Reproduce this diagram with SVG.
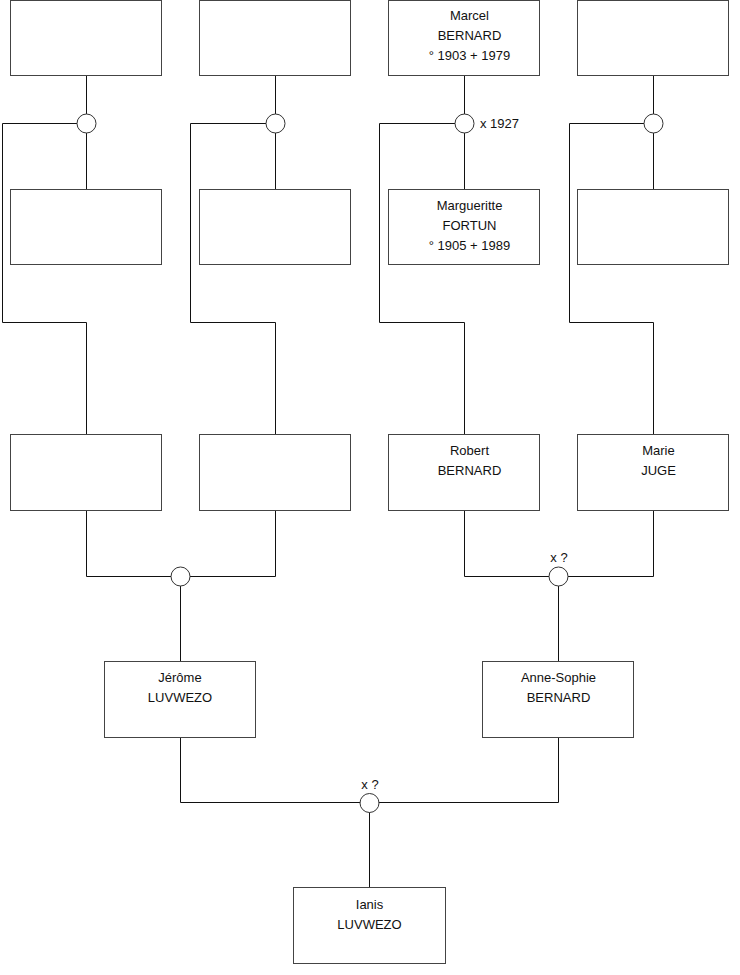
<svg xmlns="http://www.w3.org/2000/svg" width="740" height="975" viewBox="0 0 740 975">
<style>
.box{fill:#fff;stroke:#444;stroke-width:1}
.ln{fill:none;stroke:#111;stroke-width:1}
.ring{fill:#fff;stroke:#333;stroke-width:1}
text{font-family:"Liberation Sans",Arial,sans-serif;font-size:13px;fill:#111;text-anchor:middle}
.lab{text-anchor:start}
</style>
<rect width="740" height="975" fill="#fff"/>
<g id="connectors">
<path class="ln" d="M86.5,75.5V189.5 M86.5,123.5H2.5V322.5H86.5V434.5"/>
<path class="ln" d="M275.5,75.5V189.5 M275.5,123.5H190.5V322.5H275.5V434.5"/>
<path class="ln" d="M464.5,75.5V189.5 M464.5,123.5H379.5V322.5H464.5V434.5"/>
<path class="ln" d="M653.5,75.5V189.5 M653.5,123.5H569.5V322.5H653.5V434.5"/>
<path class="ln" d="M86.5,510.5V576.5H275.5V510.5 M180.5,576.5V661.5"/>
<path class="ln" d="M464.5,510.5V576.5H653.5V510.5 M558.5,576.5V661.5"/>
<path class="ln" d="M180.5,737.5V802.5H558.5V737.5 M369.5,802.5V887.5"/>
</g>
<g id="unions">
<circle class="ring" cx="86.5" cy="123.5" r="9.5"/>
<circle class="ring" cx="275.5" cy="123.5" r="9.5"/>
<circle class="ring" cx="464.5" cy="123.5" r="9.5"/>
<text class="lab" x="480" y="128">x 1927</text>
<circle class="ring" cx="653.5" cy="123.5" r="9.5"/>
<circle class="ring" cx="180.5" cy="576.5" r="9.5"/>
<circle class="ring" cx="558.5" cy="576.5" r="9.5"/>
<text x="559" y="562">x ?</text>
<circle class="ring" cx="369.5" cy="803" r="9.5"/>
<text x="370" y="789">x ?</text>
</g>
<g id="p1"><rect class="box" x="10.5" y="0.5" width="151" height="75"/></g>
<g id="p2"><rect class="box" x="199.5" y="0.5" width="151" height="75"/></g>
<g id="marcel"><rect class="box" x="388.5" y="0.5" width="151" height="75"/>
<text x="469.5" y="20">Marcel</text><text x="469.5" y="40">BERNARD</text><text x="469.5" y="60">° 1903 + 1979</text></g>
<g id="p4"><rect class="box" x="577.5" y="0.5" width="151" height="75"/></g>
<g id="p5"><rect class="box" x="10.5" y="189.5" width="151" height="75"/></g>
<g id="p6"><rect class="box" x="199.5" y="189.5" width="151" height="75"/></g>
<g id="margueritte"><rect class="box" x="388.5" y="189.5" width="151" height="75"/>
<text x="469.5" y="210">Margueritte</text><text x="469.5" y="230">FORTUN</text><text x="469.5" y="250">° 1905 + 1989</text></g>
<g id="p8"><rect class="box" x="577.5" y="189.5" width="151" height="75"/></g>
<g id="p9"><rect class="box" x="10.5" y="434.5" width="151" height="76"/></g>
<g id="p10"><rect class="box" x="199.5" y="434.5" width="151" height="76"/></g>
<g id="robert"><rect class="box" x="388.5" y="434.5" width="151" height="76"/>
<text x="469.5" y="455">Robert</text><text x="469.5" y="475">BERNARD</text></g>
<g id="marie"><rect class="box" x="577.5" y="434.5" width="151" height="76"/>
<text x="658.5" y="455">Marie</text><text x="658.5" y="475">JUGE</text></g>
<g id="jerome"><rect class="box" x="104.5" y="661.5" width="151" height="76"/>
<text x="180" y="682">Jérôme</text><text x="180" y="702">LUVWEZO</text></g>
<g id="annesophie"><rect class="box" x="482.5" y="661.5" width="151" height="76"/>
<text x="558.5" y="682">Anne-Sophie</text><text x="558.5" y="702">BERNARD</text></g>
<g id="ianis"><rect class="box" x="293.5" y="887.5" width="152" height="76"/>
<text x="369.5" y="909">Ianis</text><text x="369.5" y="929">LUVWEZO</text></g>
</svg>
